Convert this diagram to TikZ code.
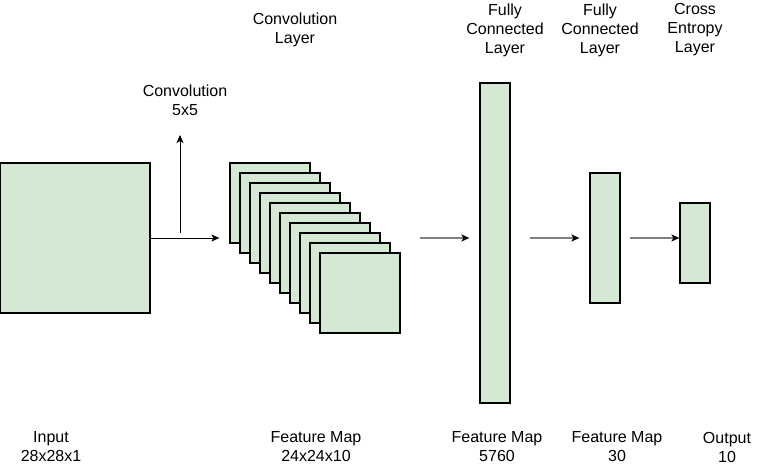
\documentclass[tikz,border=0pt]{standalone}
\usepackage{fontspec}
\setmainfont{Liberation Sans}
\usetikzlibrary{calc}
\usetikzlibrary{positioning}
\usetikzlibrary{arrows.meta}
\definecolor{mapgreen}{HTML}{D5E8D4}
\definecolor{arrowgray}{HTML}{808080}
\tikzstyle{fmap} = [rectangle, draw, fill=mapgreen, line width=1.2pt,
    inner sep=0pt, minimum width=80pt, minimum height=80pt]
\tikzstyle{layer} = [rectangle, draw, fill=mapgreen, line width=1.2pt,
    inner sep=0pt, minimum width=30pt]
\tikzstyle{label} = [align=center, font=\fontsize{16pt}{19pt}\selectfont,
    inner sep=0pt]
\tikzstyle{line} = [draw, line width=0.9pt, -{Stealth[length=8pt, width=7pt, inset=2pt]}]
\tikzstyle{grayline} = [line, arrowgray, line width=1.4pt,
    -{Stealth[length=8pt, width=7pt, inset=2pt, black]}]

\begin{document}
\begin{tikzpicture}[x=1pt, y=-1pt]
    \useasboundingbox (0,0) rectangle (781,472);
    % Place nodes
    \node [fmap, minimum width=150pt, minimum height=150pt] (input) at (75,238) {};
    \foreach \i in {1,...,10}
        \node [fmap] (fm\i) at ({260+10*\i},{193+10*\i}) {};
    \node [layer, minimum height=320pt] (fc1) at (495,243) {};
    \node [layer, minimum height=130pt] (fc2) at (605,238) {};
    \node [layer, minimum height=80pt] (ce) at (695,243) {};
    % Labels
    \node [label] (convlbl) at (295,30) {Convolution\\Layer};
    \node [label] (kernlbl) at (185,100) {Convolution\\5x5};
    \node [label] (fc1lbl) at (505,30) {Fully\\Connected\\Layer};
    \node [label] (fc2lbl) at (600,30) {Fully\\Connected\\Layer};
    \node [label] (celbl) at (695,30) {Cross\\Entropy\\Layer};
    \node [label] (inlbl) at (51,447) {Input\\28x28x1};
    \node [label] (fmlbl) at (316,447) {Feature Map\\24x24x10};
    \node [label] (fc1out) at (497,447) {Feature Map\\5760};
    \node [label] (fc2out) at (617,447) {Feature Map\\30};
    \node [label] (celout) at (727,447) {Output\\10};
    % Free ends
    \coordinate (kbase) at (180,233);
    \coordinate (ktop) at (180,135);
    \coordinate (a1) at (420,238);
    \coordinate (a2) at (530,238);
    \coordinate (a3) at (630,238);
    % Draw edges
    \path [line] (input.east) -- ($(input.east -| fm1.west)+(-10,0)$);
    \path [line] (kbase) -- (ktop);
    \path [grayline] (a1) -- ($(a1 -| fc1.west)+(-10,0)$);
    \path [grayline] (a2) -- ($(a2 -| fc2.west)+(-10,0)$);
    \path [grayline] (a3) -- (a3 -| ce.west);
\end{tikzpicture}
\end{document}
